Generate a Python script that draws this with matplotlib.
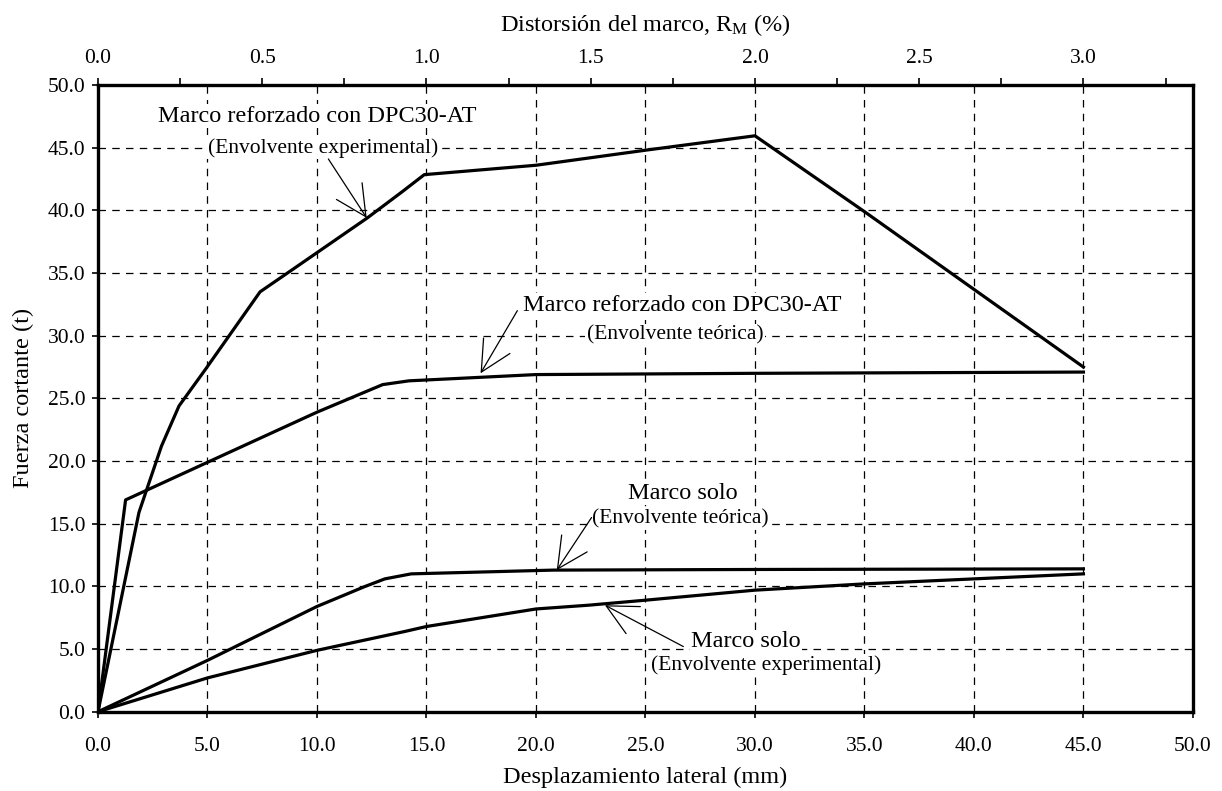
import matplotlib
matplotlib.use("Agg")
import matplotlib.pyplot as plt
from matplotlib.ticker import MultipleLocator, FormatStrFormatter

plt.rcParams['font.family'] = ['Liberation Serif', 'DejaVu Serif']
plt.rcParams['mathtext.fontset'] = 'custom'
plt.rcParams['mathtext.rm'] = 'Liberation Serif'
plt.rcParams['mathtext.it'] = 'Liberation Serif:italic'

# ---- data ----
dpc_exp_x = [0, 1.87, 2.9, 3.7, 4.9, 7.4, 8.9, 12.3, 13.9, 14.9, 20.0, 25.0, 30.0, 35.0, 40.0, 45.0]
dpc_exp_y = [0, 15.9, 21.2, 24.4, 27.3, 33.5, 35.3, 39.4, 41.5, 42.85, 43.6, 44.8, 45.95, 39.9, 33.7, 27.5]

dpc_teo_x = [0, 1.26, 5.0, 10.0, 13.0, 14.2, 20.0, 30.0, 45.0]
dpc_teo_y = [0, 16.9, 19.9, 23.9, 26.1, 26.4, 26.9, 27.0, 27.1]

solo_teo_x = [0, 5.0, 10.0, 12.2, 13.1, 14.3, 20.8, 30.0, 45.0]
solo_teo_y = [0, 4.1, 8.4, 10.0, 10.6, 11.0, 11.3, 11.35, 11.4]

solo_exp_x = [0, 5.0, 10.0, 14.0, 15.0, 20.0, 22.4, 25.0, 30.0, 35.0, 40.0, 45.0]
solo_exp_y = [0, 2.7, 4.9, 6.4, 6.8, 8.2, 8.5, 8.9, 9.7, 10.2, 10.6, 11.0]

x_ticks = [0, 5, 10, 15, 20, 25, 30, 35, 40, 45, 50]
y_ticks = [0, 5, 10, 15, 20, 25, 30, 35, 40, 45, 50]
top_ticks = [0.0, 0.5, 1.0, 1.5, 2.0, 2.5, 3.0]
mm_per_pct = 15.0  # 3.0 % <-> 45 mm

fig = plt.figure(figsize=(12.22, 7.91), dpi=100)
ax = fig.add_axes([0.0802, 0.1002, 0.896, 0.7923])

lw_curve = 2.3
for xs, ys in [(dpc_exp_x, dpc_exp_y), (dpc_teo_x, dpc_teo_y),
               (solo_teo_x, solo_teo_y), (solo_exp_x, solo_exp_y)]:
    ax.plot(xs, ys, color='black', lw=lw_curve, solid_joinstyle='round', zorder=3)

ax.set_xlim(0, 50)
ax.set_ylim(0, 50)
ax.set_xticks(x_ticks)
ax.set_yticks(y_ticks)
ax.xaxis.set_major_formatter(FormatStrFormatter('%.1f'))
ax.yaxis.set_major_formatter(FormatStrFormatter('%.1f'))
ax.tick_params(axis='both', direction='out', length=4, width=1.2, labelsize=15.5, color='black')
ax.tick_params(axis='x', pad=14)
ax.tick_params(axis='y', pad=5)
ax.grid(True, color='black', lw=0.9, linestyle=(0, (6, 5)), zorder=1)
for s in ax.spines.values():
    s.set_linewidth(2.4)

ax.set_xlabel('Desplazamiento lateral (mm)', fontsize=17.5, labelpad=8)
ax.set_ylabel('Fuerza cortante (t)', fontsize=17.5, labelpad=10)

# top axis
ax2 = ax.twiny()
ax2.set_xlim(0, 50 / mm_per_pct)
ax2.set_xticks(top_ticks)
ax2.xaxis.set_minor_locator(MultipleLocator(0.25))
ax2.xaxis.set_major_formatter(FormatStrFormatter('%.1f'))
ax2.tick_params(axis='x', which='both', direction='out', length=5, width=1.2, labelsize=15.5, pad=7)
ax2.set_xlabel(r'Distorsión del marco, R$_{\mathrm{M}}$ (%)', fontsize=17.5, labelpad=13)
for s in ax2.spines.values():
    s.set_visible(False)

bbox = dict(facecolor='white', edgecolor='none', pad=1.0)
arrow = dict(arrowstyle='->,head_length=1.1,head_width=0.55', mutation_scale=20,
             lw=0.9, color='black', shrinkA=0, shrinkB=0)

# annotation 1: DPC experimental
ax.text(10.0, 47.5, 'Marco reforzado con DPC30-AT', fontsize=17.5, ha='center', va='center', bbox=bbox, zorder=4)
ax.text(10.27, 45.0, '(Envolvente experimental)', fontsize=15.5, ha='center', va='center', bbox=bbox, zorder=4)
ax.annotate('', xy=(12.27, 39.4), xytext=(10.52, 44.1), arrowprops=arrow, zorder=4)

# annotation 2: DPC teorica
ax.text(26.7, 32.45, 'Marco reforzado con DPC30-AT', fontsize=17.5, ha='center', va='center', bbox=bbox, zorder=4)
ax.text(26.35, 30.1, '(Envolvente teórica)', fontsize=15.5, ha='center', va='center', bbox=bbox, zorder=4)
ax.annotate('', xy=(17.47, 27.0), xytext=(19.15, 32.0), arrowprops=arrow, zorder=4)

# annotation 3: marco solo teorica
ax.text(26.7, 17.43, 'Marco solo', fontsize=17.5, ha='center', va='center', bbox=bbox, zorder=4)
ax.text(26.6, 15.4, '(Envolvente teórica)', fontsize=15.5, ha='center', va='center', bbox=bbox, zorder=4)
ax.annotate('', xy=(20.95, 11.3), xytext=(22.54, 15.5), arrowprops=arrow, zorder=4)

# annotation 4: marco solo experimental
ax.text(29.6, 5.6, 'Marco solo', fontsize=17.5, ha='center', va='center', bbox=bbox, zorder=4)
ax.text(30.5, 3.73, '(Envolvente experimental)', fontsize=15.5, ha='center', va='center', bbox=bbox, zorder=4)
ax.annotate('', xy=(23.15, 8.5), xytext=(26.73, 5.2), arrowprops=arrow, zorder=4)

fig.savefig('out.png', dpi=100)
